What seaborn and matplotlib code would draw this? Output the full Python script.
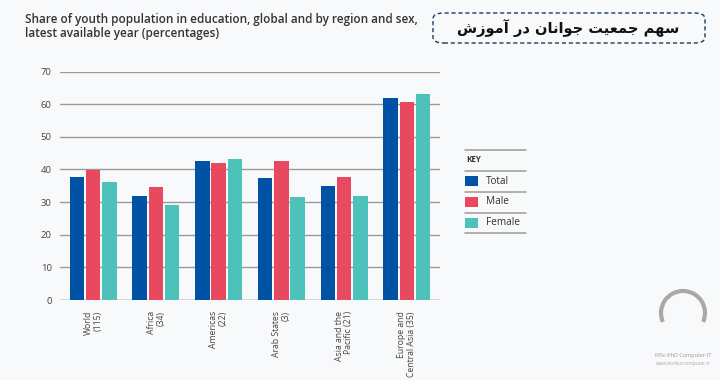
import matplotlib
matplotlib.use('Agg')
import matplotlib.pyplot as plt
import seaborn as sns
import pandas as pd
from matplotlib.patches import FancyBboxPatch, Rectangle, Arc
from matplotlib.lines import Line2D

# datos
regiones = ['World\n(115)', 'Africa\n(34)', 'Americas\n(22)', 'Arab States\n(3)',
            'Asia and the\nPacific (21)', 'Europe and\nCentral Asia (35)']
total = [37.8, 31.8, 42.6, 37.3, 34.8, 61.8]
male = [39.8, 34.6, 42.1, 42.5, 37.6, 60.8]
female = [36.1, 29.0, 43.1, 31.5, 32.0, 63.2]
series = ['Total', 'Male', 'Female']
colores = ['#0052a5', '#e8495f', '#4cc2ba']
y_ticks = [0, 10, 20, 30, 40, 50, 60, 70]

# titulo persa en formas de presentacion, orden visual (sin reshaper disponible)
forma_logica = [0xFEB3, 0xFEEC, 0xFEE2, 0x20,
                0xFE9F, 0xFEE4, 0xFECC, 0xFEF4, 0xFE96, 0x20,
                0xFE9F, 0xFEEE, 0xFE8D, 0xFEE7, 0xFE8E, 0xFEE5, 0x20,
                0xFEA9, 0xFEAD, 0x20,
                0xFE81, 0xFEE3, 0xFEEE, 0xFEAF, 0xFEB5]
titulo_fa = ''.join(chr(c) for c in reversed(forma_logica))

df = pd.DataFrame({
    'region': regiones * 3,
    'valor': total + male + female,
    'serie': [s for s in series for _ in regiones],
})

sns.set_style('white')
plt.rcParams['font.family'] = ['Open Sans', 'DejaVu Sans']
bg = '#f8f9fb'

fig = plt.figure(figsize=(7.2, 3.8), dpi=100, facecolor=bg)
ax = fig.add_axes([60 / 720, 1 - 300 / 380, 380 / 720, (300 - 71.5) / 380])
ax.set_facecolor(bg)

for t in y_ticks:
    ax.axhline(t, color='#555555' if t == 0 else '#999999', lw=1.0, zorder=0)

sns.barplot(data=df, x='region', y='valor', hue='serie', hue_order=series,
            palette=colores, width=0.78, gap=0.12, saturation=1, legend=False,
            edgecolor='none', ax=ax, zorder=2)

ax.set_ylim(0, 70)
ax.set_xlim(-0.53, 5.53)
ax.set_yticks(y_ticks)
ax.set_xlabel('')
ax.set_ylabel('')
ax.tick_params(axis='y', length=0, pad=6, labelsize=6.8, labelcolor='#444444')
ax.tick_params(axis='x', length=0, pad=8)
ax.set_xticks(range(len(regiones)))
ax.set_xticklabels(regiones, rotation=90, ha='center', va='top',
                   multialignment='right', fontsize=6.2, color='#444444',
                   linespacing=1.1)
for s in ax.spines.values():
    s.set_visible(False)

# titulo en ingles
fig.text(25 / 720, 1 - 13 / 380,
         'Share of youth population in education, global and by region and sex,\n'
         'latest available year (percentages)',
         ha='left', va='top', fontsize=8.5, fontweight='semibold',
         color='#333333', linespacing=1.15)

# cuadro del titulo persa
caja = FancyBboxPatch((433 / 720, 1 - 43 / 380), 272 / 720, 30 / 380,
                      boxstyle='round,pad=0,rounding_size=0.015',
                      transform=fig.transFigure, facecolor='none',
                      edgecolor='#1f3a5f', lw=1.0, ls=(0, (3, 2)))
fig.patches.append(caja)
fig.text(568 / 720, 1 - 28 / 380, titulo_fa, ha='center', va='center',
         fontsize=10.5, fontweight='bold', color='#111111',
         family=['DejaVu Sans'])

# leyenda manual tipo KEY
for yy in [150, 171, 192, 212.5, 233]:
    fig.add_artist(Line2D([465 / 720, 526 / 720], [1 - yy / 380] * 2,
                          transform=fig.transFigure, color='#9a9a9a', lw=1.1))
fig.text(466 / 720, 1 - 160 / 380, 'KEY', ha='left', va='center',
         fontsize=5.8, fontweight='bold', color='#333333')
for i, (nombre, col) in enumerate(zip(series, colores)):
    yc = 181 + 20.8 * i
    fig.patches.append(Rectangle((465 / 720, 1 - (yc + 5) / 380), 13 / 720, 10 / 380,
                                 transform=fig.transFigure, facecolor=col,
                                 edgecolor='none'))
    fig.text(486 / 720, 1 - yc / 380, nombre, ha='left', va='center',
             fontsize=7.2, color='#333333')

# logo de marca de agua
fig.add_artist(Arc((683 / 720, 1 - 313 / 380), 44 / 720, 44 / 380, theta1=-40,
                   theta2=220, transform=fig.transFigure, color='#a8a8a8', lw=3))
fig.text(683 / 720, 1 - 356 / 380, 'MSc-PhD Computer-IT', ha='center',
         va='center', fontsize=4, color='#999999')
fig.text(683 / 720, 1 - 363 / 380, 'www.konkurcomputer.ir', ha='center',
         va='center', fontsize=3.5, color='#aaaaaa')

fig.savefig('out.png', dpi=100, facecolor=bg)
